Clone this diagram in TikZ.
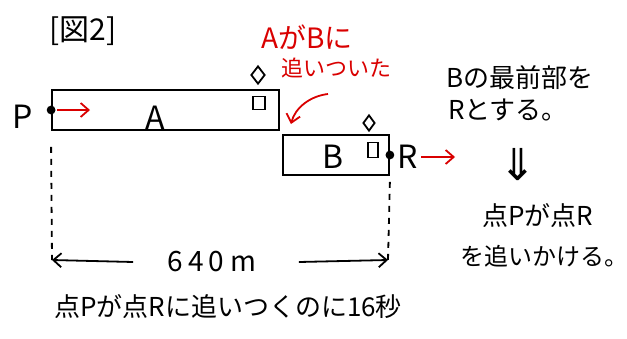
\documentclass[tikz,border=0pt]{standalone}
\usepackage{fontspec}
\setmainfont{Noto Sans CJK JP}
\newfontfamily\symfont{DejaVu Sans}
\usepackage{xcolor}
\colorlet{myred}{red!85!black}
\usetikzlibrary{arrows.meta}
\usetikzlibrary{shapes.geometric}

\begin{document}
\begin{tikzpicture}[x=0.5pt,y=-0.5pt, line width=0.9pt,
    car/.style={draw, minimum height=20pt, inner sep=0pt},
    win/.style={draw, minimum width=6pt, minimum height=6.5pt, inner sep=0pt},
    lamp/.style={draw, diamond, minimum width=7pt, minimum height=9pt, inner sep=0pt},
    big/.style={font=\fontsize{16}{18}\selectfont, inner sep=0pt},
    txt/.style={font=\fontsize{13}{15}\selectfont, inner sep=0pt},
    redtxt/.style={myred, font=\fontsize{12}{14}\selectfont, inner sep=0pt},
    tip/.style={-{Straight Barb[length=4pt,width=7pt]}}]
      \useasboundingbox (0,0) rectangle (627,338);
      \node[font=\fontsize{15}{17}\selectfont] (title) at (83,31) {[図2]};

      \node[car, minimum width=113.5pt] (carA) at (165.5,110) {};
      \node[car, minimum width=53pt] (carB) at (336,155) {};
      \node[big] (lA) at (155,118) {A};
      \node[big] (lB) at (333,157) {B};
      \node[win] (wA) at (259,103) {};
      \node[lamp] (dA) at (258,75) {};
      \node[win, minimum width=5pt, minimum height=7.5pt] (wB) at (373,150) {};
      \node[lamp, minimum width=6pt, minimum height=8pt] (dB) at (369,123) {};
      \fill foreach \s in {carA.west,carB.east}{(\s) circle [radius=2.2pt]};
      \node[big] (lP) at (23,117) {P};
      \node[big] (lR) at (408,157) {R};

      \coordinate (pA) at (57,110);
      \coordinate (pA2) at (90,110);
      \draw[myred, tip] (pA) -- (pA2);
      \coordinate (rB) at (421,157);
      \coordinate (rB2) at (455,157);
      \draw[myred, tip] (rB) -- (rB2);

      \node[redtxt, font=\fontsize{14}{16}\selectfont] (catch1) at (307,37) {AがBに};
      \node[redtxt, font=\fontsize{11}{13}\selectfont] (catch2) at (336,68) {追いついた};
      \coordinate (cc1) at (328,94);
      \coordinate (cc2) at (291,124);
      \draw[myred, tip] (cc1) .. controls (310,96) and (295,108) .. (cc2);

      \node[txt] (n1) at (520,78) {Bの最前部を};
      \node[txt] (n2) at (508,110) {Rとする。};
      \node[font=\symfont\fontsize{22}{24}\selectfont, inner sep=0pt] (n3) at (518,165) {⇓};
      \node[txt] (n4) at (538,216) {点Pが点R};
      \node[txt, font=\fontsize{12}{14}\selectfont] (n5) at (544,256) {を追いかける。};

      \coordinate (dL) at (52,260);
      \coordinate (dR) at (388,260);
      \draw[dashed] ([yshift=-8pt]carA.south west) -- (dL);
      \draw[dashed] ([yshift=-3pt]carB.south east) -- (dR);
      \node[txt, font=\fontsize{14}{16}\selectfont] (dim) at (212,262) {6\,4\,0 m};
      \draw[tip] ([xshift=-17pt]dim.west) -- (dL);
      \draw[tip] ([xshift=21pt]dim.east) -- (dR);

      \node[txt] (n6) at (228,307) {点Pが点Rに追いつくのに16秒};
    \end{tikzpicture}
\end{document}
